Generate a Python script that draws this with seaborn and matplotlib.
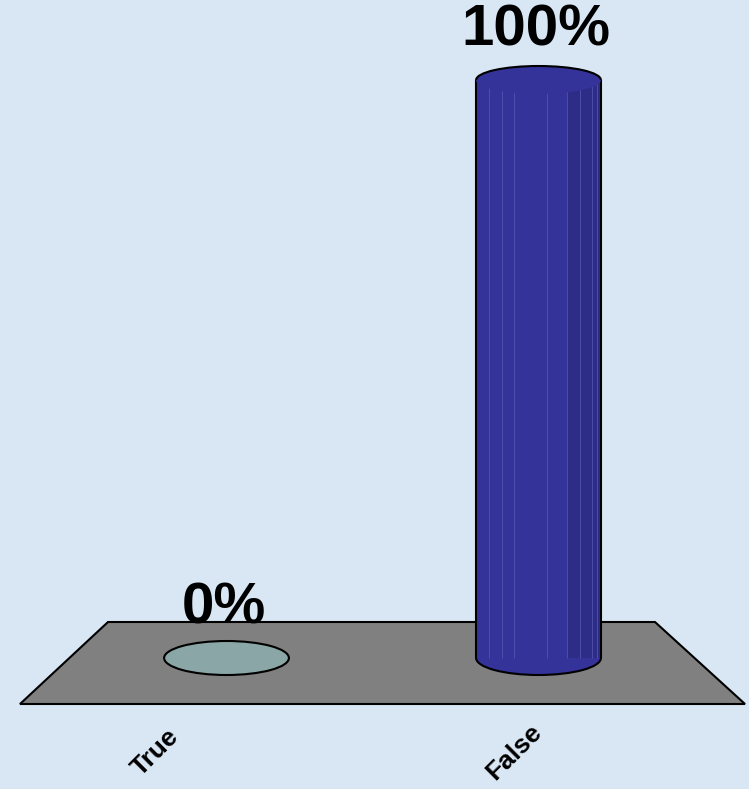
import matplotlib
matplotlib.use("Agg")
import matplotlib.pyplot as plt
from matplotlib.patches import Ellipse, Arc, Polygon, Rectangle
import seaborn as sns

# Chart data
categories = ["True", "False"]
values = [0, 100]
bar_colors = ["#8AA6A6", "#333399"]

W, H = 749, 789
bg = "#D9E7F4"

sns.set_style("white")
plt.rcParams["font.family"] = ["Liberation Sans", "DejaVu Sans"]

fig = plt.figure(figsize=(W / 100, H / 100), dpi=100)
fig.patch.set_facecolor(bg)
ax = fig.add_axes([0, 0, 1, 1])
ax.set_facecolor(bg)

sns.barplot(x=categories, y=values, hue=categories, palette=bar_colors, saturation=1,
            width=0.4, linewidth=0, legend=False, ax=ax, zorder=3)

# map: category step 312 px, 5.78 px per percent, zero line at y=658 px
ax.set_xlim(-226.5 / 312, (W - 226.5) / 312)
ax.set_ylim(-(H - 658) / 5.78, 658 / 5.78)
ax.axis("off")

# floor of the 3D plot
floor = [(20, 704), (745, 704), (655, 622), (108, 622)]
ax.add_patch(Polygon([(x / W, 1 - y / H) for x, y in floor], closed=True,
                     transform=ax.transAxes, fc="#808080", ec="black", lw=1.5, zorder=1))

ell_h = 34 / 5.78
for i, p in enumerate(ax.patches[:len(values)]):
    x0, w, h = p.get_x(), p.get_width(), p.get_height()
    cx = x0 + w / 2
    col = p.get_facecolor()
    # bottom cap
    ax.add_patch(Ellipse((cx, 0), w, ell_h, fc=col, ec="black", lw=1.5, zorder=2))
    if h > 0:
        # darker right side + facet stripes
        ax.add_patch(Rectangle((x0 + 0.73 * w, 0), 0.27 * w, h, fc="#2D2D88", lw=0, zorder=3.1))
        for f in [0.1, 0.21, 0.3, 0.57, 0.73, 0.83, 0.93, 0.97]:
            ax.vlines(x0 + f * w, 0, h, color="#5A5AB8", lw=0.7, alpha=0.7, zorder=3.2)
        ax.vlines([x0, x0 + w], 0, h, color="black", lw=1.5, zorder=3.3)
        # top cap
        ax.add_patch(Ellipse((cx, h), w, 28 / 5.78, fc=col, ec="none", zorder=3.4))
        ax.add_patch(Arc((cx, h), w, 28 / 5.78, theta1=0, theta2=180, ec="black", lw=1.5, zorder=3.5))
    ax.text(cx - 0.01, h + 50 / 5.78, f"{values[i]}%", ha="center", va="center",
            fontsize=42, fontweight="bold", color="black", zorder=5)

# slanted category labels
label_pos = [(155, 752), (514, 752)]
for lab, (px, py) in zip(categories, label_pos):
    ax.text((px - 226.5) / 312, -(py - 658) / 5.78, lab, rotation=45, rotation_mode="anchor",
            ha="center", va="center", fontsize=19, fontweight="bold", color="black")

fig.savefig("out.png", dpi=100, facecolor=bg)
